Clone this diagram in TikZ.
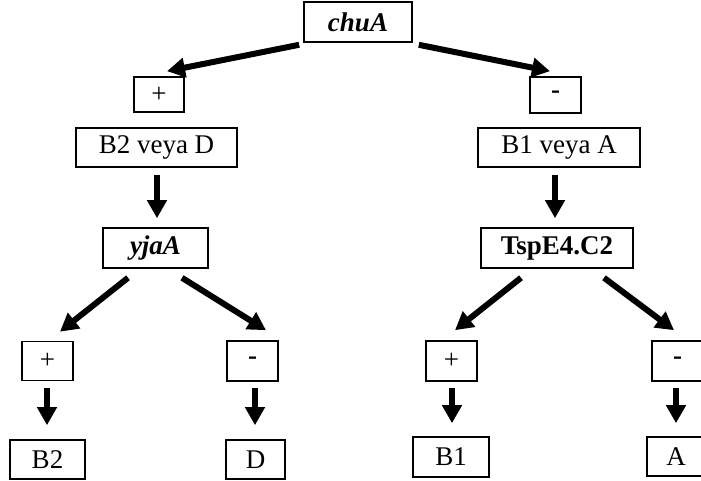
\documentclass[tikz,border=0pt]{standalone}
\usepackage{fontspec}
\setmainfont{Liberation Serif}
\usetikzlibrary{arrows.meta,calc}
\begin{document}
\begin{tikzpicture}[x=1pt,y=-1pt,
  bx/.style={draw,line width=1.6pt,inner sep=0pt,font=\fontsize{27}{31}\selectfont},
  arr/.style={line width=6pt,-{Triangle[length=18pt,width=19pt]}}]
\useasboundingbox (0,0) rectangle (701,481);
\clip (0,0) rectangle (701,481);
\node[bx,minimum width=108pt,minimum height=40pt] (chuA) at (358,22) {\textbf{\textit{chuA}}};
\node[bx,minimum width=50pt,minimum height=35pt] (plusL) at (159,94.5) {+};
\node[bx,minimum width=51pt,minimum height=36pt] (minusR) at (555.5,95) {\textbf{-}};
\node[bx,minimum width=161pt,minimum height=39pt] (BDa) at (156.5,147.5) {B2 veya D};
\node[bx,minimum width=162pt,minimum height=39pt] (BAa) at (559,147.5) {B1 veya A};
\node[bx,minimum width=105pt,minimum height=40pt] (yja) at (155.5,248) {\textbf{\textit{yjaA}}};
\node[bx,minimum width=152pt,minimum height=40pt] (tsp) at (557,248) {\textbf{TspE4.C2}};
\node[bx,minimum width=51pt,minimum height=39pt] (plusLL) at (47.5,361) {+};
\node[bx,minimum width=51pt,minimum height=40pt] (minusLR) at (252.5,361) {\textbf{-}};
\node[bx,minimum width=51pt,minimum height=40pt] (plusRL) at (451.5,361) {+};
\node[bx,minimum width=51pt,minimum height=40pt] (minusRR) at (677.5,361) {\textbf{-}};
\node[bx,minimum width=75pt,minimum height=39pt] (B2) at (47.5,459.5) {B2};
\node[bx,minimum width=59pt,minimum height=39pt] (D) at (255.5,459.5) {D};
\node[bx,minimum width=76pt,minimum height=40pt] (B1) at (451,457) {B1};
\node[bx,minimum width=58pt,minimum height=39pt] (A) at (676,456.5) {A};
\draw[arr] ($(chuA.south west)+(-4,2)$) -- ($(plusL.north)+(8,-5)$);
\draw[arr] ($(chuA.south east)+(6,2)$) -- ($(minusR.north)+(-5.5,-5)$);
\draw[arr] ($(BDa.south)+(0.5,7)$) -- ($(yja.north)+(1.5,-9)$);
\draw[arr] ($(BAa.south)+(-4,7)$) -- ($(tsp.north)+(-2,-9)$);
\draw[arr] ($(yja.south)+(-27.5,9)$) -- ($(plusLL.north)+(12.5,-9)$);
\draw[arr] ($(yja.south)+(26.5,9)$) -- ($(minusLR.north)+(13.5,-10)$);
\draw[arr] ($(tsp.south)+(-36,9)$) -- ($(plusRL.north)+(3.5,-10)$);
\draw[arr] ($(tsp.south)+(47,9)$) -- ($(minusRR.north)+(-3.5,-10)$);
\draw[arr] ($(plusLL.south)+(-0.5,7)$) -- ($(B2.north)+(-0.5,-14)$);
\draw[arr] ($(minusLR.south)+(2.5,6)$) -- ($(D.north)+(-0.5,-14)$);
\draw[arr] ($(plusRL.south)+(0.5,6)$) -- ($(B1.north)+(1,-13)$);
\draw[arr] ($(minusRR.south)+(-1.5,6)$) -- ($(A.north)+(0,-13)$);
\end{tikzpicture}
\end{document}
